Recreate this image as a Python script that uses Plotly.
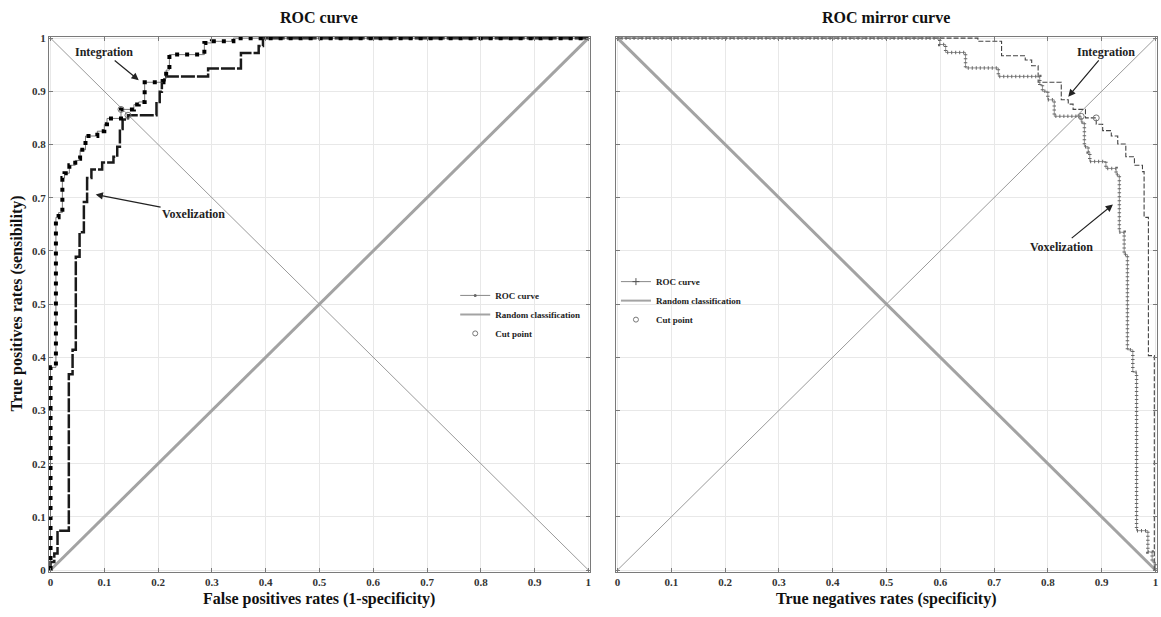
import plotly.graph_objects as go

# ---------------- data ----------------
tick_vals = [0, 0.1, 0.2, 0.3, 0.4, 0.5, 0.6, 0.7, 0.8, 0.9, 1]
tick_text = ["0", "0.1", "0.2", "0.3", "0.4", "0.5", "0.6", "0.7", "0.8", "0.9", "1"]

# Left panel: ROC curve (FPR, TPR), step vertices (hv)
integ_fpr = [0, 0, 0.010, 0.015, 0.022, 0.026, 0.035, 0.046, 0.053, 0.055, 0.065, 0.087,
             0.100, 0.105, 0.131, 0.155, 0.164, 0.175, 0.210, 0.215, 0.221, 0.286, 0.300,
             0.340, 1.0]
integ_tpr = [0, 0.381, 0.663, 0.672, 0.737, 0.746, 0.761, 0.770, 0.773, 0.790, 0.816, 0.825,
             0.838, 0.849, 0.866, 0.875, 0.880, 0.917, 0.924, 0.940, 0.969, 0.991, 0.994,
             1.0, 1.0]

voxel_fpr = [0, 0, 0.007, 0.013, 0.034, 0.041, 0.047, 0.054, 0.062, 0.068, 0.076, 0.096,
             0.117, 0.124, 0.129, 0.134, 0.144, 0.197, 0.203, 0.207, 0.212, 0.293, 0.354,
             0.387, 0.395, 1.0]
voxel_tpr = [0, 0.015, 0.031, 0.074, 0.368, 0.414, 0.589, 0.635, 0.692, 0.737, 0.753, 0.766,
             0.777, 0.796, 0.829, 0.847, 0.855, 0.880, 0.899, 0.921, 0.928, 0.943, 0.972,
             0.985, 1.0, 1.0]

# Right panel: ROC mirror curve (specificity, TPR), step vertices (hv)
m_integ_spec = [0, 0.670, 0.714, 0.758, 0.770, 0.782, 0.825, 0.838, 0.847, 0.870, 0.890,
                0.902, 0.918, 0.930, 0.945, 0.961, 0.976, 0.979, 0.987, 0.998, 1.0]
m_integ_tpr = [1.0, 0.994, 0.967, 0.959, 0.948, 0.917, 0.884, 0.876, 0.866, 0.850, 0.838,
               0.826, 0.816, 0.801, 0.777, 0.761, 0.749, 0.663, 0.403, 0.0, 0.0]

m_voxel_spec = [0, 0.599, 0.610, 0.647, 0.708, 0.785, 0.790, 0.800, 0.812, 0.862, 0.868,
                0.875, 0.878, 0.908, 0.927, 0.933, 0.942, 0.948, 0.958, 0.965, 0.986,
                0.994, 1.0]
m_voxel_tpr = [1.0, 0.988, 0.973, 0.944, 0.928, 0.912, 0.900, 0.884, 0.853, 0.842, 0.796,
               0.786, 0.768, 0.755, 0.743, 0.635, 0.593, 0.414, 0.372, 0.074, 0.034,
               0.015, 0.0]

cut_left_x = [0.131, 0.144]
cut_left_y = [0.866, 0.855]
cut_right_x = [0.862, 0.890]
cut_right_y = [0.853, 0.850]

diag_up = [0, 1]
diag_down = [1, 0]

SERIF = "Liberation Serif"
GRAY = "#a3a3a3"

fig = go.Figure()

# ---------- left panel ----------
fig.add_trace(go.Scatter(x=diag_up, y=diag_up, mode="lines", showlegend=False,
                         line=dict(color=GRAY, width=3), xaxis="x", yaxis="y"))
fig.add_trace(go.Scatter(x=diag_up, y=diag_down, mode="lines", showlegend=False,
                         line=dict(color="#9a9a9a", width=1), xaxis="x", yaxis="y"))
fig.add_trace(go.Scatter(x=voxel_fpr, y=voxel_tpr, mode="lines", line_shape="hv",
                         showlegend=False,
                         line=dict(color="#1a1a1a", width=2.5, dash="14px,2px"),
                         xaxis="x", yaxis="y"))
fig.add_trace(go.Scatter(x=integ_fpr, y=integ_tpr, mode="lines", line_shape="hv",
                         showlegend=False, line=dict(color="#555", width=0.8),
                         xaxis="x", yaxis="y"))
fig.add_trace(go.Scatter(x=integ_fpr, y=integ_tpr, mode="lines", line_shape="hv",
                         showlegend=False,
                         line=dict(color="#000", width=4, dash="4px,6px"),
                         xaxis="x", yaxis="y"))
fig.add_trace(go.Scatter(x=cut_left_x, y=cut_left_y, mode="markers", showlegend=False,
                         marker=dict(symbol="circle-open", size=6, color="#777",
                                     line=dict(width=1)),
                         xaxis="x", yaxis="y"))

# legend-only entries (left)
fig.add_trace(go.Scatter(x=[None], y=[None], mode="lines+markers", name="ROC curve",
                         line=dict(color="#888", width=1),
                         marker=dict(symbol="circle", size=3, color="#666"),
                         legend="legend", xaxis="x", yaxis="y"))
fig.add_trace(go.Scatter(x=[None], y=[None], mode="lines", name="Random classification",
                         line=dict(color=GRAY, width=2), legend="legend",
                         xaxis="x", yaxis="y"))
fig.add_trace(go.Scatter(x=[None], y=[None], mode="markers", name="Cut point",
                         marker=dict(symbol="circle-open", size=5, color="#777"),
                         legend="legend", xaxis="x", yaxis="y"))

# ---------- right panel ----------
fig.add_trace(go.Scatter(x=diag_up, y=diag_down, mode="lines", showlegend=False,
                         line=dict(color=GRAY, width=3), xaxis="x2", yaxis="y2"))
fig.add_trace(go.Scatter(x=diag_up, y=diag_up, mode="lines", showlegend=False,
                         line=dict(color="#9a9a9a", width=1), xaxis="x2", yaxis="y2"))
fig.add_trace(go.Scatter(x=m_integ_spec, y=m_integ_tpr, mode="lines", line_shape="hv",
                         showlegend=False,
                         line=dict(color="#444", width=1.1, dash="5px,2px"),
                         xaxis="x2", yaxis="y2"))
fig.add_trace(go.Scatter(x=m_voxel_spec, y=m_voxel_tpr, mode="lines", line_shape="hv",
                         showlegend=False, line=dict(color="#777", width=0.8),
                         xaxis="x2", yaxis="y2"))
fig.add_trace(go.Scatter(x=m_voxel_spec, y=m_voxel_tpr, mode="lines", line_shape="hv",
                         showlegend=False,
                         line=dict(color="#666", width=3.5, dash="1px,3px"),
                         xaxis="x2", yaxis="y2"))
fig.add_trace(go.Scatter(x=cut_right_x, y=cut_right_y, mode="markers", showlegend=False,
                         marker=dict(symbol="circle-open", size=6, color="#777",
                                     line=dict(width=1)),
                         xaxis="x2", yaxis="y2"))

# legend-only entries (right)
fig.add_trace(go.Scatter(x=[None], y=[None], mode="lines+markers", name="ROC curve",
                         line=dict(color="#888", width=1),
                         marker=dict(symbol="cross-thin", size=5, color="#555",
                                     line=dict(width=1, color="#555")),
                         legend="legend2", xaxis="x2", yaxis="y2"))
fig.add_trace(go.Scatter(x=[None], y=[None], mode="lines", name="Random classification",
                         line=dict(color=GRAY, width=2), legend="legend2",
                         xaxis="x2", yaxis="y2"))
fig.add_trace(go.Scatter(x=[None], y=[None], mode="markers", name="Cut point",
                         marker=dict(symbol="circle-open", size=5, color="#777"),
                         legend="legend2", xaxis="x2", yaxis="y2"))

W, H = 1161, 617
xl0, xl1 = 48 / W, 590 / W
xr0, xr1 = 616 / W, 1158 / W
yb, yt = (H - 575) / H, (H - 32) / H

axis_common = dict(range=[-0.003, 1.003], tickvals=tick_vals, ticktext=tick_text,
                   showgrid=True, gridcolor="#e8e8e8", gridwidth=1,
                   showline=True, linecolor="#7a7a7a", linewidth=1, mirror="ticks",
                   ticks="inside", ticklen=4, tickcolor="#7a7a7a", zeroline=False,
                   tickfont=dict(family=SERIF, size=11, color="#333", weight="bold"),
                   fixedrange=True)

fig.update_layout(
    width=W, height=H,
    margin=dict(l=0, r=0, t=0, b=0),
    paper_bgcolor="white", plot_bgcolor="white",
    xaxis=dict(domain=[xl0, xl1], anchor="y", **axis_common),
    yaxis=dict(domain=[yb, yt], anchor="x", **axis_common),
    xaxis2=dict(domain=[xr0, xr1], anchor="y2", **axis_common),
    yaxis2=dict(domain=[yb, yt], anchor="x2", showticklabels=False,
                **{k: v for k, v in axis_common.items() if k not in ("tickfont",)}),
    legend=dict(x=455 / W, y=1 - 280 / H, xanchor="left", yanchor="top",
                bgcolor="rgba(0,0,0,0)", itemwidth=30, tracegroupgap=0,
                font=dict(family=SERIF, size=9, color="#222", weight="bold")),
    legend2=dict(x=616 / W, y=1 - 266 / H, xanchor="left", yanchor="top",
                 bgcolor="rgba(0,0,0,0)", itemwidth=30, tracegroupgap=0,
                 font=dict(family=SERIF, size=9, color="#222", weight="bold")),
    showlegend=True,
)

title_font = dict(family=SERIF, size=16, color="#111", weight="bold")
label_font = dict(family=SERIF, size=12, color="#222", weight="bold")

def paper_text(text, px, py, angle=0):
    return dict(text=text, x=px / W, y=1 - py / H, xref="paper", yref="paper",
                xanchor="center", yanchor="middle", showarrow=False,
                textangle=angle, font=title_font)

anns = [
    paper_text("ROC curve", 319, 13),
    paper_text("ROC mirror curve", 887, 13),
    paper_text("False positives rates (1-specificity)", 319, 603),
    paper_text("True negatives rates (specificity)", 887, 603),
    paper_text("True positives rates (sensibility)", 16, 303, angle=-90),
    # arrows
    dict(text="Integration", x=0.164, y=0.921, ax=0.10, ay=0.974, xref="x", yref="y",
         axref="x", ayref="y", showarrow=True, arrowhead=2, arrowsize=1.2,
         arrowwidth=1.2, arrowcolor="#222", font=label_font),
    dict(text="Voxelization", x=0.084, y=0.706, ax=0.266, ay=0.670, xref="x", yref="y",
         axref="x", ayref="y", showarrow=True, arrowhead=2, arrowsize=1.2,
         arrowwidth=1.2, arrowcolor="#222", font=label_font),
    dict(text="Integration", x=0.838, y=0.890, ax=0.908, ay=0.974, xref="x2", yref="y2",
         axref="x2", ayref="y2", showarrow=True, arrowhead=2, arrowsize=1.2,
         arrowwidth=1.2, arrowcolor="#222", font=label_font),
    dict(text="Voxelization", x=0.921, y=0.687, ax=0.825, ay=0.608, xref="x2", yref="y2",
         axref="x2", ayref="y2", showarrow=True, arrowhead=2, arrowsize=1.2,
         arrowwidth=1.2, arrowcolor="#222", font=label_font),
]
fig.update_layout(annotations=anns)

fig.write_html("out.html",
               config={"displayModeBar": False},
               post_script="document.body.style.margin='0px';"
                           "document.body.style.overflow='hidden';")
